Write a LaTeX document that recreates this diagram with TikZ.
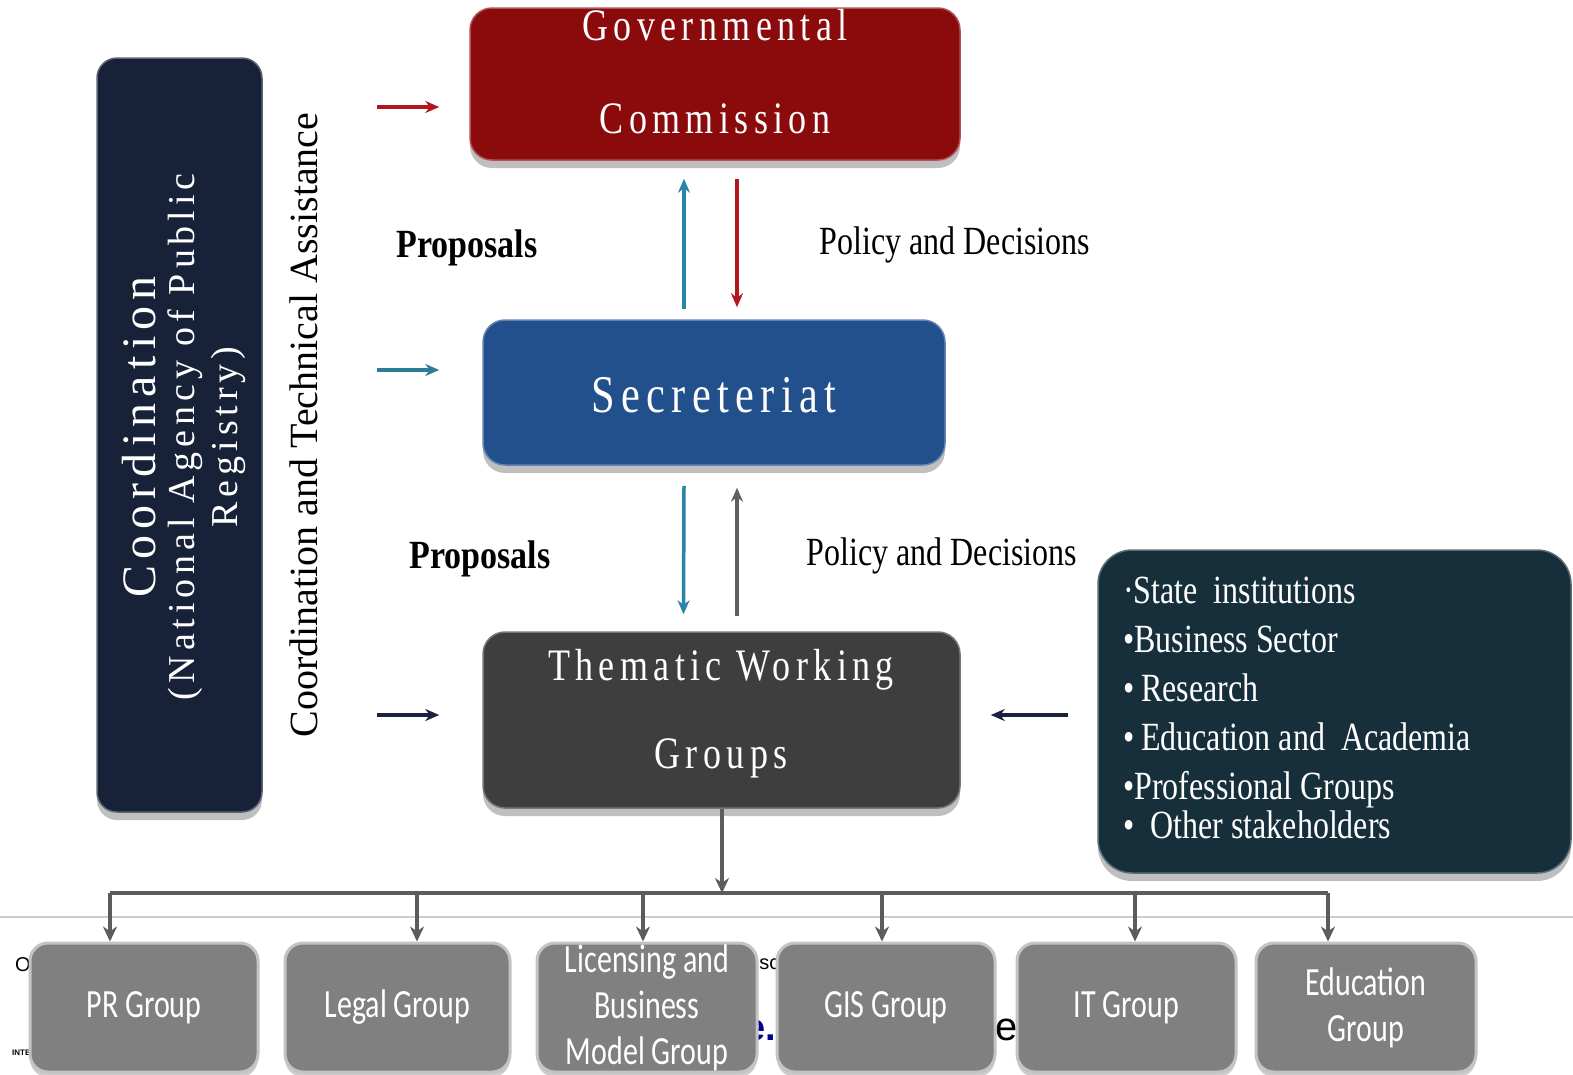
\documentclass[tikz,border=0pt]{standalone}
\usepackage{fontspec}
\setmainfont{Liberation Serif}
\newfontfamily\lsf[FakeStretch=0.8,LetterSpace=12]{Liberation Serif}
\newfontfamily\rlsf[LetterSpace=13]{Liberation Serif}
\newfontfamily\cnd[FakeStretch=0.8]{Liberation Serif}
\newfontfamily\cndb[FakeStretch=0.85]{Liberation Serif}
\newfontfamily\carl[FakeStretch=0.75]{Carlito}
\newfontfamily\lsans{Liberation Sans}
\usetikzlibrary{arrows.meta,shadows,calc}
\definecolor{cRed}{RGB}{139,10,12}
\definecolor{cBlue}{RGB}{33,80,140}
\definecolor{cDark}{RGB}{62,62,62}
\definecolor{cNavy}{RGB}{23,33,56}
\definecolor{cStake}{RGB}{22,47,58}
\definecolor{cBox}{RGB}{128,128,128}
\definecolor{cBoxEdge}{RGB}{195,195,195}
\definecolor{aRed}{RGB}{180,22,32}
\definecolor{aTeal}{RGB}{40,132,168}
\definecolor{aTealL}{RGB}{45,125,150}
\definecolor{aGray}{RGB}{95,95,95}
\definecolor{aNavy}{RGB}{25,35,60}
\definecolor{tree}{RGB}{92,92,92}
\tikzset{
  mainbox/.style={rounded corners=22pt, inner sep=0pt, line width=1.5pt,
    drop shadow={shadow xshift=0pt, shadow yshift=-8pt, fill=black, opacity=0.25}},
  boxtxt/.style={anchor=base, text=white, inner sep=0pt, font=\lsf\fontsize{45}{50}\selectfont},
  arr/.style={line width=3.5pt, -{Stealth[length=14pt,width=12pt]}},
  treeln/.style={line width=4.5pt, color=tree},
  treearr/.style={treeln, -{Stealth[length=15pt,width=14pt]}},
  lbl/.style={inner sep=0pt, text=black, font=\cnd\fontsize{40}{46}\selectfont},
  lblb/.style={inner sep=0pt, text=black, font=\cndb\bfseries\fontsize{40}{46}\selectfont},
  smallbox/.style={rounded corners=18pt, fill=cBox, draw=cBoxEdge, line width=3pt,
    minimum height=129pt, inner sep=0pt, text=white, align=center,
    font=\carl\fontsize{40}{46}\selectfont,
    drop shadow={shadow xshift=0pt, shadow yshift=-5pt, fill=black, opacity=0.2}},
  frag/.style={inner sep=0pt, anchor=west}
}
\begin{document}
\begin{tikzpicture}[x=1pt,y=-1pt]
\useasboundingbox (0,0) rectangle (1573,1074);
\fill[white] (0,0) rectangle (1573,1074);

% background separator line and slide fragments
\coordinate (sepL) at (0,917);
\coordinate (sepR) at (1573,917);
\draw[line width=2pt, color=black!20] (sepL) -- (sepR);
\node[frag, font=\lsans\fontsize{20}{20}\selectfont] (fo) at (15,965) {O};
\node[frag, font=\lsans\bfseries\fontsize{8}{8}\selectfont] (fi) at (12,1053) {INTE};
\node[frag, font=\lsans\fontsize{20}{20}\selectfont] (fn) at (748,964) {nsc};
\node[frag, font=\lsans\bfseries\fontsize{38}{38}\selectfont, text=blue!55!black] (fe) at (744,1030) {e.};
\node[frag, font=\lsans\fontsize{40}{40}\selectfont] (fe2) at (995,1030) {e};

% main boxes
\node[mainbox, fill=cRed, draw=cRed!70!white, minimum width=490pt, minimum height=152pt] (gc) at (715,84) {};
\node[boxtxt] (gct1) at (715,40) {Governmental};
\node[boxtxt] (gct2) at (715,133) {Commission};

\node[mainbox, fill=cBlue, draw=cBlue!70!white, minimum width=462pt, minimum height=145pt] (sec) at (714,392.5) {};
\node[boxtxt, font=\lsf\fontsize{53}{58}\selectfont] (sect) at (714,412) {Secreteriat};

\node[mainbox, fill=cDark, draw=cDark!70!white, minimum width=477pt, minimum height=176pt] (twg) at (721.5,720) {};
\node[boxtxt] (twgt1) at (721,680) {Thematic Working};
\node[boxtxt] (twgt2) at (721,768) {Groups};

\node[mainbox, rounded corners=20pt, fill=cNavy, draw=cNavy!70!white, minimum width=165pt, minimum height=754pt] (coord) at (179.5,435) {};
\node[rotate=90, text=white, inner sep=0pt, font=\rlsf\fontsize{48}{52}\selectfont] (ct1) at (139,437) {Coordination};
\node[rotate=90, text=white, inner sep=0pt, font=\rlsf\fontsize{38}{42}\selectfont] (ct2) at (185,437) {(National Agency of Public};
\node[rotate=90, text=white, inner sep=0pt, font=\rlsf\fontsize{38}{42}\selectfont] (ct3) at (228,437) {Registry)};

\node[mainbox, rounded corners=34pt, fill=cStake, draw=cStake!70!white, minimum width=473pt, minimum height=323pt] (stake) at (1334.5,711.5) {};
\node[anchor=north west, inner sep=0pt, align=left, text=white, font=\cnd\fontsize{40}{49}\selectfont] (staket) at (1123,577)
  {·State\ \ institutions\\ •Business Sector\\ •\,Research\\ •\,Education and\ \ Academia\\ •Professional Groups\\[-10pt] •\ \ Other stakeholders};

% side label
\node[rotate=90, lbl, font=\fontsize{40}{46}\selectfont] (cta) at (304,425) {Coordination and Technical Assistance};

% labels
\node[lblb] (p1) at (467,248) {Proposals};
\node[lbl] (d1) at (955,245) {Policy and Decisions};
\node[lblb] (p2) at (480,559) {Proposals};
\node[lbl] (d2) at (942,556) {Policy and Decisions};

% coordination arrows
\coordinate (la) at (377,107);
\coordinate (lb) at (377,370);
\coordinate (lc) at (377,715);
\draw[arr, aRed, shorten >=30pt] (la) -- (gc.west |- la);
\draw[arr, aTealL, shorten >=43pt] (lb) -- (sec.west |- lb);
\draw[arr, aNavy, shorten >=43pt] (lc) -- (twg.west |- lc);

% vertical arrows
\draw[arr, aTeal] ($(sec.north)+(-30,-10)$) -- ($(gc.south)+(-31,18)$);
\draw[arr, aRed] ($(gc.south)+(22,18)$) -- ($(sec.north)+(23,-12)$);
\draw[arr, aTeal] ($(sec.south)+(-30,20)$) -- ($(twg.north)+(-38,-17)$);
\draw[arr, aGray] ($(twg.north)+(15.5,-15)$) -- ($(sec.south)+(23,22)$);

% stakeholders arrow
\draw[arr, aNavy, shorten <=29pt, shorten >=30pt] (stake.west |- lc) -- (twg.east |- lc);

% bottom boxes
\node[smallbox, minimum width=228pt] (pr) at (144,1007.5) {PR Group};
\node[smallbox, minimum width=225pt] (legal) at (397.5,1007.5) {Legal Group};
\node[smallbox, minimum width=220pt] (lic) at (647,1007.5) {Licensing and\\Business\\Model Group};
\node[smallbox, minimum width=218pt] (gis) at (886,1007.5) {GIS Group};
\node[smallbox, minimum width=219pt] (it) at (1126.5,1007.5) {IT Group};
\node[smallbox, minimum width=220pt] (edu) at (1366,1007.5) {Education\\Group};

% tree
\coordinate (bus) at (722,893);
\coordinate (b1) at (110,893);
\coordinate (b2) at (417,893);
\coordinate (b3) at (643,893);
\coordinate (b4) at (882,893);
\coordinate (b5) at (1135,893);
\coordinate (b6) at (1328,893);
\draw[treeln] (b1) -- (b6);
\draw[treearr] (twg.south -| bus) -- (bus);
\draw[treearr] (b1) -- (b1 |- pr.north);
\draw[treearr] (b2) -- (b2 |- legal.north);
\draw[treearr] (b3) -- (b3 |- lic.north);
\draw[treearr] (b4) -- (b4 |- gis.north);
\draw[treearr] (b5) -- (b5 |- it.north);
\draw[treearr] (b6) -- (b6 |- edu.north);
\end{tikzpicture}
\end{document}
